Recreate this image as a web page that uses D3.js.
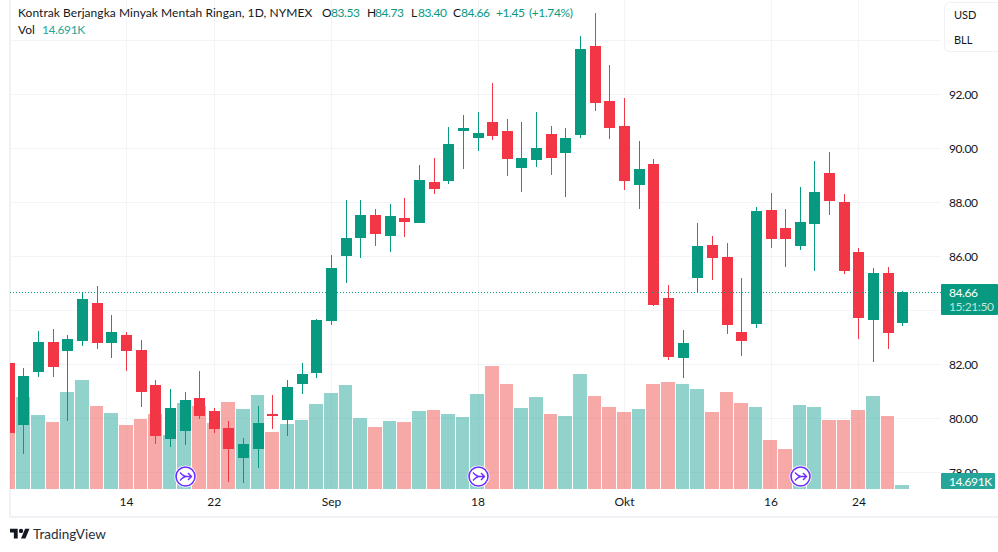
<!DOCTYPE html>
<html>
<head>
<meta charset="utf-8">
<script src="https://cdn.jsdelivr.net/npm/d3@7"></script>
<style>
  html, body { margin: 0; padding: 0; background: #fff; }
  svg { display: block; }
  text { font-family: Lato, sans-serif; fill: #131722; }
</style>
</head>
<body>
<div id="chart"></div>
<script>
// daily candles
var opens = [82.05,79.75,81.71,82.83,82.49,82.86,84.27,82.79,83.09,82.53,81.23,79.23,79.53,80.75,80.27,79.64,78.53,78.86,80.16,79.94,81.27,81.68,83.60,86.01,86.68,87.53,86.75,87.42,87.23,88.75,88.79,90.64,90.38,90.97,90.64,89.27,89.57,90.53,89.83,90.49,93.79,91.75,90.83,88.64,89.42,84.46,82.23,85.20,86.42,85.97,83.20,83.49,87.72,87.05,86.38,87.20,89.09,88.01,86.16,83.64,85.38,83.53];
var highs = [82.05,81.86,83.23,83.31,83.09,84.68,84.90,83.83,83.20,82.90,81.42,81.09,80.97,81.75,80.38,79.90,79.27,80.46,80.86,81.42,82.05,83.68,86.05,88.09,88.09,87.75,87.94,88.16,89.38,89.64,90.79,91.23,91.35,92.42,91.09,90.97,91.35,90.83,90.75,94.16,95.01,93.09,91.86,90.27,89.60,84.94,83.27,87.23,86.75,86.49,85.20,87.83,88.35,87.75,88.57,89.53,89.86,88.31,86.31,85.57,85.60,84.73];
var lows = [79.46,78.68,81.53,81.53,79.90,82.68,82.57,82.23,81.75,80.42,79.05,78.94,79.01,79.97,79.46,77.64,77.60,78.16,79.60,79.34,80.90,81.49,83.46,85.02,85.94,86.38,86.16,86.72,87.23,88.31,88.68,89.23,89.90,90.31,88.97,88.38,89.31,89.01,88.20,90.38,91.38,90.35,88.46,87.75,84.16,82.16,81.49,84.64,85.12,83.12,82.31,83.35,86.31,85.60,86.23,85.46,87.53,85.35,82.94,82.09,82.57,83.40];
var closes = [79.46,81.57,82.83,81.90,82.94,84.42,82.79,83.20,82.49,80.97,79.34,80.38,80.68,80.09,79.60,78.86,79.05,79.83,80.09,81.16,81.64,83.64,85.57,86.68,87.53,86.83,87.49,87.27,88.83,88.49,90.16,90.75,90.57,90.46,89.60,89.64,90.01,89.64,90.38,93.68,91.68,90.75,88.79,89.23,84.20,82.27,82.79,86.38,85.94,83.46,82.86,87.68,86.64,86.64,87.27,88.38,88.05,85.46,83.72,85.38,83.16,84.66];
var volumes = [206,338,272,246,356,400,305,279,235,257,275,198,316,305,242,320,294,345,209,239,253,312,353,382,261,228,250,246,286,290,275,264,349,452,386,297,338,275,268,422,342,301,283,294,386,393,386,367,283,356,316,301,180,147,309,301,253,253,290,342,268,14.691];

// axis labels
var priceTicks = [94,92,90,88,86,84,82,80,78];
var priceLabels = [92,90,88,86,82,80,78];
var timeTicks = [8,14,22,32,42,52,58];
var timeLabels = ["14","22","Sep","18","Okt","16","24"];
var earningsMarks = [12,32,54];

var legendParts = [["O",322,0],["83.53",331,1],["H",367,0],["84.73",375,1],["L",411,0],["83.40",418,1],["C",453,0],["84.66",461,1],["+1.45",496,1],["(+1.74%)",529,1]];

var wi = 998, he = 552;
var green = "#089981", red = "#f23645";
var gridCol = "#f3f4f8", edgeCol = "#f0f1f7";
var plotLeft = 10, plotRight = 941, plotBottom = 489;
var font = "Lato, sans-serif", fontSize = 12, numSpacing = "-0.4px";

var svg = d3.select("#chart").append("svg").attr("width", wi).attr("height", he);

var x = d3.scaleLinear().domain([0, 61]).range([8.7, 902.35]);
var y = d3.scaleLinear().domain([78, 92]).range([472.3, 94.3]);
var v = d3.scaleLinear().domain([0, 452]).range([plotBottom, 366]);

svg.append("clipPath").attr("id", "plot").append("rect")
  .attr("x", plotLeft).attr("y", 0).attr("width", plotRight - plotLeft).attr("height", plotBottom);

// grid
var grid = svg.append("g").attr("shape-rendering", "crispEdges");
grid.selectAll("line.h").data(priceTicks).enter().append("line").attr("class", "h")
  .attr("x1", plotLeft).attr("x2", plotRight)
  .attr("y1", function(d) { return Math.round(y(d)) + 0.5; })
  .attr("y2", function(d) { return Math.round(y(d)) + 0.5; })
  .attr("stroke", gridCol);
grid.selectAll("line.v").data(timeTicks).enter().append("line").attr("class", "v")
  .attr("y1", 0).attr("y2", plotBottom)
  .attr("x1", function(d) { return Math.round(x(d)) + 0.5; })
  .attr("x2", function(d) { return Math.round(x(d)) + 0.5; })
  .attr("stroke", gridCol);

// pane borders
svg.append("rect").attr("x", 9).attr("y", 0).attr("width", 2).attr("height", 517).attr("fill", edgeCol);
svg.append("rect").attr("x", 9).attr("y", 516).attr("width", wi - 9).attr("height", 2).attr("fill", edgeCol);

var plot = svg.append("g").attr("clip-path", "url(#plot)").attr("shape-rendering", "crispEdges");

// volume
plot.selectAll("rect.vol").data(volumes).enter().append("rect").attr("class", "vol")
  .attr("x", function(d, i) { return Math.round(x(i - 0.5) + 0.3); })
  .attr("width", function(d, i) { return Math.round(x(i + 0.5) + 0.3) - Math.round(x(i - 0.5) + 0.3) - 1; })
  .attr("y", function(d) { return Math.round(v(d)); })
  .attr("height", function(d) { return plotBottom - Math.round(v(d)); })
  .attr("fill", function(d, i) { return closes[i] >= opens[i] ? "#26a69a" : "#ef5350"; })
  .attr("fill-opacity", 0.5);

// last price line
svg.append("line").attr("x1", plotLeft).attr("x2", plotRight)
  .attr("y1", Math.round(y(84.66)) + 0.5).attr("y2", Math.round(y(84.66)) + 0.5)
  .attr("stroke", green).attr("stroke-dasharray", "1 2");

// candles
var candle = plot.selectAll("g.candle").data(opens).enter().append("g").attr("class", "candle")
  .attr("fill", function(d, i) { return closes[i] >= d ? green : red; });
candle.append("rect")
  .attr("x", function(d, i) { return Math.round(x(i)); })
  .attr("width", 1)
  .attr("y", function(d, i) { return Math.round(y(highs[i])); })
  .attr("height", function(d, i) { return Math.round(y(lows[i])) - Math.round(y(highs[i])); });
candle.append("rect")
  .attr("x", function(d, i) { return Math.round(x(i)) - 5; })
  .attr("width", 11)
  .attr("y", function(d, i) { return Math.round(y(Math.max(d, closes[i]))); })
  .attr("height", function(d, i) { return Math.max(1, Math.round(y(Math.min(d, closes[i]))) - Math.round(y(Math.max(d, closes[i])))); });

// markers on the time axis
var mark = svg.selectAll("g.mark").data(earningsMarks).enter().append("g").attr("class", "mark")
  .attr("transform", function(d) { return "translate(" + (Math.round(x(d)) + 0.5) + ",476.5)"; });
mark.append("circle").attr("r", 11).attr("fill", "#fff");
mark.append("circle").attr("r", 9.5).attr("fill", "#fff").attr("stroke", "#6a2cff").attr("stroke-width", 1.6);
mark.append("path").attr("d", "M-5.5 -4 Q-2 0 1 0 M-5.5 4 Q-2 0 1 0 M-1 0 H6 M2.5 -3.5 L6 0 L2.5 3.5")
  .attr("fill", "none").attr("stroke", "#6a2cff").attr("stroke-width", 1.4);

// axes
var priceAxis = d3.axisRight(y).tickValues(priceLabels).tickSize(0).tickPadding(0)
  .tickFormat(function(d) { return d.toFixed(2); });
var gy = svg.append("g").attr("transform", "translate(949,0.5)").call(priceAxis);
gy.select(".domain").remove();
gy.selectAll("text").attr("font-size", fontSize).style("font-family", font).style("fill", "#131722").style("letter-spacing", numSpacing);

var timeAxis = d3.axisBottom(x).tickValues(timeTicks).tickSize(0).tickPadding(0)
  .tickFormat(function(d, i) { return timeLabels[i]; });
var gx = svg.append("g").attr("transform", "translate(0,497)").call(timeAxis);
gx.select(".domain").remove();
gx.selectAll("text").attr("font-size", fontSize).style("font-family", font).style("fill", "#131722");

// price labels on the right
svg.append("rect").attr("x", 941).attr("y", 284).attr("width", 57).attr("height", 31).attr("rx", 1).attr("fill", green);
svg.append("text").text("84.66").attr("x", 949).attr("y", 297).attr("font-size", fontSize).style("fill", "#fff").style("letter-spacing", numSpacing);
svg.append("text").text("15:21:50").attr("x", 949).attr("y", 311).attr("font-size", fontSize).style("fill", "#fff").style("fill-opacity", 0.75).style("letter-spacing", numSpacing);
svg.append("rect").attr("x", 941).attr("y", 473).attr("width", 54).attr("height", 16).attr("rx", 1).attr("fill", "#26a69a");
svg.append("text").text("14.691K").attr("x", 949).attr("y", 485.5).attr("font-size", fontSize).style("fill", "#fff").style("letter-spacing", numSpacing);

// legend
svg.append("text").text("Kontrak Berjangka Minyak Mentah Ringan, 1D, NYMEX").attr("x", 18).attr("y", 17).attr("font-size", fontSize).style("letter-spacing", "0.06px");
svg.selectAll("text.ohlc").data(legendParts).enter().append("text").attr("class", "ohlc")
  .text(function(d) { return d[0]; })
  .attr("x", function(d) { return d[1]; })
  .attr("y", 17).attr("font-size", fontSize)
  .style("letter-spacing", numSpacing)
  .style("fill", function(d) { return d[2] ? green : "#131722"; });
svg.append("text").text("Vol").attr("x", 18).attr("y", 34).attr("font-size", fontSize);
svg.append("text").text("14.691K").attr("x", 42).attr("y", 34).attr("font-size", fontSize).style("fill", "#26a69a").style("letter-spacing", numSpacing);

// currency / unit box
svg.append("rect").attr("x", 944.5).attr("y", 2.5).attr("width", 60).attr("height", 49).attr("rx", 5)
  .attr("fill", "#fff").attr("stroke", edgeCol);
svg.append("text").text("USD").attr("x", 954).attr("y", 19).attr("font-size", 11);
svg.append("text").text("BLL").attr("x", 954).attr("y", 44).attr("font-size", 11);

// logo
var logo = svg.append("g").attr("transform", "translate(10,526.5) scale(0.55)").attr("fill", "#131722");
logo.append("path").attr("d", "M14 22H7V11H0V4h14v18zM28 22h-8l7.5-18h8L28 22z");
logo.append("circle").attr("cx", 20).attr("cy", 8).attr("r", 4);
svg.append("text").text("TradingView").attr("x", 33).attr("y", 539).attr("font-size", 13.5).style("fill", "#2a2e39");
</script>
</body>
</html>
